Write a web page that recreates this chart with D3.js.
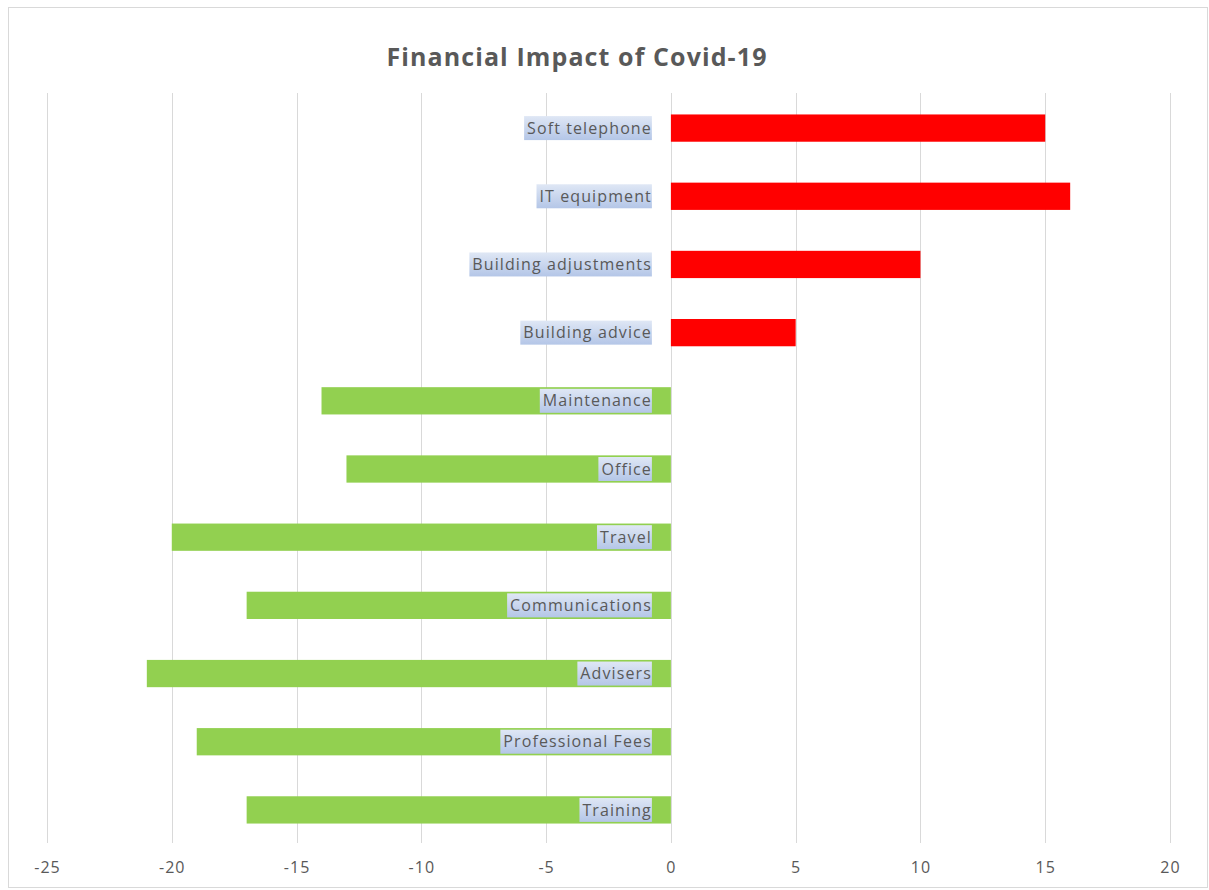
<!DOCTYPE html>
<html><head><meta charset="utf-8">
<script src="https://cdn.jsdelivr.net/npm/d3@7"></script>
<style>body{margin:0;background:#fff}svg{display:block}</style>
</head><body>
<svg id="c" width="1209" height="890"></svg>
<script>
const categories = ["Soft telephone","IT equipment","Building adjustments","Building advice","Maintenance","Office","Travel","Communications","Advisers","Professional Fees","Training"];
const values = [15,16,10,5,-14,-13,-20,-17,-21,-19,-17];
const tickValues = [-25,-20,-15,-10,-5,0,5,10,15,20];
const title = "Financial Impact of Covid-19";

const svg = d3.select("#c");
const W = 1209, H = 890;
const m = {left:47, right:39, top:93, bottom:47};
const x = d3.scaleLinear().domain([-25,20]).range([m.left, W - m.right]);
const y = d3.scaleBand().domain(categories).range([m.top, H - m.bottom]).paddingInner(0.6).paddingOuter(0.3);

const defs = svg.append("defs");
const g = defs.append("linearGradient").attr("id","lblg").attr("x1",0).attr("y1",0).attr("x2",0).attr("y2",1);
g.append("stop").attr("offset","0%").attr("stop-color","#dfe7f5");
g.append("stop").attr("offset","100%").attr("stop-color","#b4c6e7");

svg.append("rect").attr("x",8.5).attr("y",7.5).attr("width",1199).attr("height",880)
  .attr("fill","#fff").attr("stroke","#d9d9d9").attr("stroke-width",1);

svg.append("text").attr("x",577).attr("y",66).attr("text-anchor","middle")
  .attr("font-family","Open Sans, sans-serif").attr("font-weight","bold").attr("font-size",25)
  .attr("letter-spacing","1.1px")
  .attr("fill","#595959").text(title);

// gridlines
svg.append("g").selectAll("line").data(tickValues).join("line")
  .attr("x1",d=>Math.round(x(d))+0.5).attr("x2",d=>Math.round(x(d))+0.5)
  .attr("y1",m.top).attr("y2",H - m.bottom)
  .attr("stroke","#d9d9d9").attr("stroke-width",1);

// axis labels
const ax = svg.append("g").attr("transform",`translate(0,${H - m.bottom})`)
  .call(d3.axisBottom(x).tickValues(tickValues).tickFormat(d=>String(d)).tickSize(0).tickPadding(19));
ax.select(".domain").remove();
ax.selectAll("text").attr("font-family","Open Sans, sans-serif").attr("font-size",16)
  .attr("letter-spacing","1px").attr("fill","#595959");

// bars
svg.append("g").selectAll("rect").data(categories).join("rect")
  .attr("x",(d,i)=>x(Math.min(0,values[i])))
  .attr("width",(d,i)=>Math.abs(x(values[i]) - x(0)))
  .attr("y",d=>y(d)+1).attr("height",y.bandwidth())
  .attr("fill",(d,i)=>values[i] >= 0 ? "#ff0000" : "#92d050");

// labels
const lg = svg.append("g");
categories.forEach((c,i)=>{
  const cy = y(c) + y.bandwidth()/2 + 1;
  const gx = lg.append("g");
  const bg = gx.append("rect");
  const t = gx.append("text").attr("x", x(0) - 19).attr("y", cy).attr("dy","0.35em")
    .attr("text-anchor","end").attr("font-family","Open Sans, sans-serif").attr("font-size",16)
    .attr("letter-spacing","1.1px")
    .attr("fill","#595959").text(c);
  const w = t.node().getComputedTextLength();
  bg.attr("x", x(0) - 19 - w - 3).attr("y", cy - 12).attr("width", w + 3).attr("height", 24)
    .attr("fill","url(#lblg)");
});
</script>
</body></html>
